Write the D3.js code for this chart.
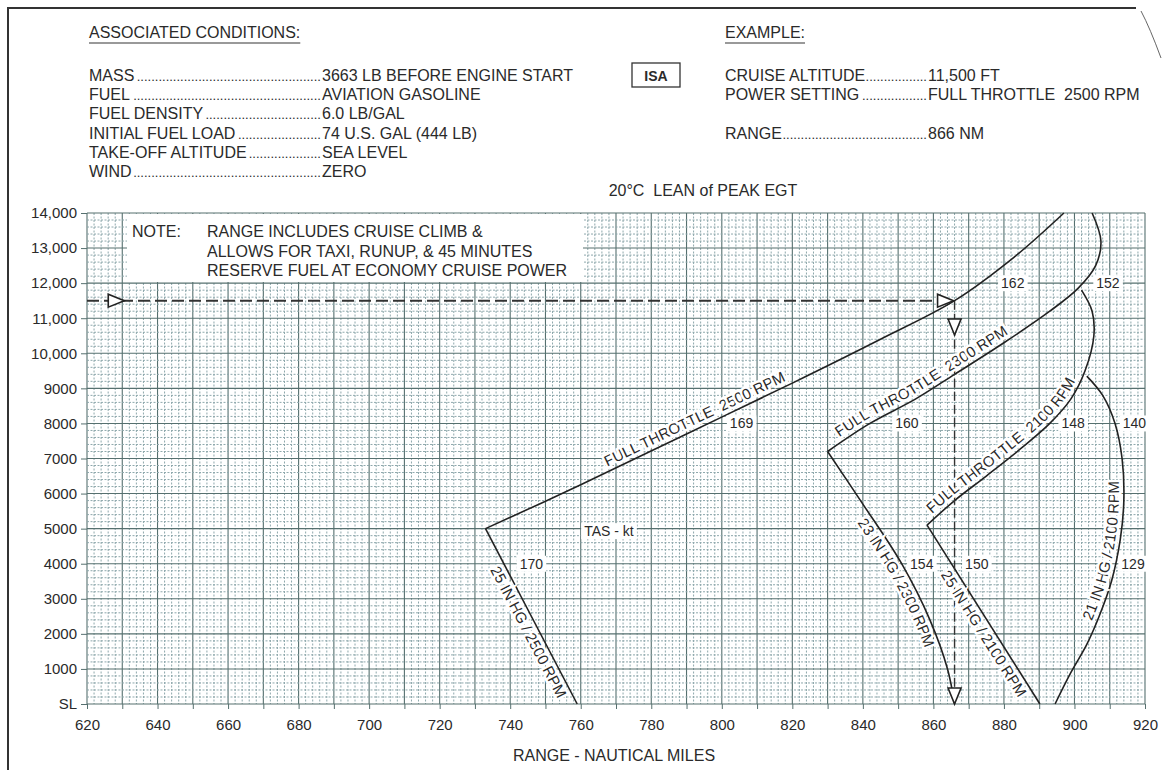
<!DOCTYPE html>
<html>
<head>
<meta charset="utf-8">
<script src="https://cdn.jsdelivr.net/npm/d3@7"></script>
<style>
    body { margin: 0; background: #fff; }
    svg text { font-family: "Liberation Sans", Arial, sans-serif; fill: #2a2a2a; }
</style>
</head>
<body>
<svg id="chart" width="1163" height="770"></svg>
<script>
// Axis ticks
const rangeTicks = [620, 640, 660, 680, 700, 720, 740, 760, 780, 800, 820, 840, 860, 880, 900, 920];
const altTicks = [0, 1000, 2000, 3000, 4000, 5000, 6000, 7000, 8000, 9000, 10000, 11000, 12000, 13000, 14000];
const altTickLabels = ["SL", "1000", "2000", "3000", "4000", "5000", "6000", "7000", "8000", "9000",
    "10,000", "11,000", "12,000", "13,000", "14,000"];

// Header text
const conditionLabels = ["MASS", "FUEL", "FUEL DENSITY", "INITIAL FUEL LOAD", "TAKE-OFF ALTITUDE", "WIND"];
const conditionValues = ["3663 LB BEFORE ENGINE START", "AVIATION GASOLINE", "6.0 LB/GAL",
    "74 U.S. GAL (444 LB)", "SEA LEVEL", "ZERO"];
const exampleLabels = ["CRUISE ALTITUDE", "POWER SETTING", "RANGE"];
const exampleValues = ["11,500 FT", "FULL THROTTLE  2500 RPM", "866 NM"];
const exampleRows = [0, 1, 3];
const noteLines = ["RANGE INCLUDES CRUISE CLIMB &", "ALLOWS FOR TAXI, RUNUP, & 45 MINUTES",
    "RESERVE FUEL AT ECONOMY CRUISE POWER"];

// Curves: [range NM, pressure altitude ft], in reading order of their labels
const mp2500 = [[733, 5000], [759, 0]];
const ft2500 = [[733, 5000], [760, 6250], [790, 7700], [820, 9150], [845, 10400], [866, 11500], [883, 12750], [897, 14000]];
const mp2300 = [[830, 7200], [840, 5700], [851, 4000], [859, 2400], [864, 1000], [866, 0]];
const ft2300 = [[830, 7200], [842, 8000], [855, 8700], [866, 9400], [880, 10300], [893, 11200], [901, 11850], [906, 12500], [907.5, 13200], [905, 14000]];
const mp2100 = [[858.2, 5100], [890.2, 0]];
const ft2100 = [[858.2, 5100], [866, 5800], [875, 6500], [885, 7300], [893, 8000], [899, 8700], [903, 9500], [905.5, 10500], [905, 11200], [902, 11800]];
const mp21in = [[894.5, 0], [899, 900], [903.5, 1700], [907, 2500], [910.5, 3500], [913, 4700], [914, 5800], [913.5, 7000], [911.5, 8000], [908, 8800], [903.5, 9350]];

const curves = [
    { id: "mp2500", pts: mp2500 }, { id: "ft2500", pts: ft2500 },
    { id: "mp2300", pts: mp2300 }, { id: "ft2300", pts: ft2300 },
    { id: "mp2100", pts: mp2100 }, { id: "ft2100", pts: ft2100 },
    { id: "mp21in", pts: mp21in },
];

// Curve labels: text, curve, where its middle sits, which side
const curveLabelText = ["25 IN HG / 2500 RPM", "FULL THROTTLE  2500 RPM", "23 IN HG / 2300 RPM",
    "FULL THROTTLE  2300 RPM", "25 IN HG / 2100 RPM", "FULL THROTTLE  2100 RPM", "21 IN HG / 2100 RPM"];
const curveLabelCurve = ["mp2500", "ft2500", "mp2300", "ft2300", "mp2100", "ft2100", "mp21in"];
const curveLabelAt = [[745, 2040], [793, 7985], [848, 3370], [857, 9150], [873, 1920], [879, 7530], [907, 4390]];
const curveLabelBelow = [true, false, true, false, true, false, false];

// TAS - kt values
const tasText = ["170", "154", "150", "129", "169", "160", "148", "140", "162", "152"];
const tasRange = [746, 856.7, 872.3, 916.6, 805.6, 852.5, 899.6, 917, 882.5, 909.5];
const tasAlt = [4000, 4000, 4000, 4000, 8000, 8000, 8000, 8000, 12000, 12000];

// Worked example
const exampleAlt = 11500;
const exampleRange = 866;
const exampleStartRange = 620;
const exampleMarkers = [[628.3, 11500, "right"], [866, 11500, "rightTip"], [866, 10750, "down"], [866, 0, "downTip"]];

// Layout
const plot = { left: 87, right: 1145, top: 213, bottom: 704 };
const minorColor = "#8ea8ac", majorColor = "#56706f", ink = "#222";

const svg = d3.select("#chart");

const x = d3.scaleLinear().domain([620, 920]).range([plot.left, plot.right]);
const y = d3.scaleLinear().domain([0, 14000]).range([plot.bottom, plot.top]);

// page border (scan edge)
svg.append("path")
    .attr("d", "M8,770 L8,8 L1136,8")
    .attr("fill", "none").attr("stroke", "#333").attr("stroke-width", 2);
svg.append("path")
    .attr("d", "M1141,11 Q1150,28 1161,58")
    .attr("fill", "none").attr("stroke", "#666").attr("stroke-width", 1);

// ---- header
const hdr = svg.append("g").attr("font-size", 16);
const rowY = i => 81 + i * 19.2;

function heading(txt, hx, hy) {
    const t = hdr.append("text").attr("x", hx).attr("y", hy).text(txt);
    const w = t.node().getComputedTextLength();
    hdr.append("line").attr("x1", hx).attr("x2", hx + w).attr("y1", hy + 5).attr("y2", hy + 5)
        .attr("stroke", "#777").attr("stroke-width", 1.3);
}
heading("ASSOCIATED CONDITIONS:", 89, 38);
heading("EXAMPLE:", 725, 38);

// dot leaders between a label and its value
const probe = hdr.append("text").attr("font-size", 13).text("..........");
const dotW = probe.node().getComputedTextLength() / 10;
probe.remove();

function leaderRow(label, value, lx, vx, ry) {
    const t = hdr.append("text").attr("x", lx).attr("y", ry).text(label);
    const end = lx + t.node().getComputedTextLength();
    const n = Math.max(0, Math.floor((vx - end - 1) / dotW));
    hdr.append("text").attr("font-size", 13).attr("x", vx - 1 - n * dotW).attr("y", ry).text(".".repeat(n));
    hdr.append("text").attr("x", vx).attr("y", ry).style("white-space", "pre").text(value);
}
conditionLabels.forEach((l, i) => leaderRow(l, conditionValues[i], 89, 322, rowY(i)));
exampleLabels.forEach((l, i) => leaderRow(l, exampleValues[i], 725, 928, rowY(exampleRows[i])));

// ISA box
hdr.append("rect").attr("x", 632).attr("y", 63).attr("width", 48).attr("height", 24)
    .attr("fill", "#fff").attr("stroke", "#333").attr("stroke-width", 1.3);
hdr.append("text").attr("x", 656).attr("y", 81).attr("text-anchor", "middle")
    .attr("font-weight", "bold").attr("font-size", 14).text("ISA");

hdr.append("text").attr("x", 703).attr("y", 196).attr("text-anchor", "middle")
    .style("white-space", "pre").text("20°C  LEAN of PEAK EGT");

// ---- grid
const grid = svg.append("g");
const xGrid = d3.range(620, 921, 2);
const yGrid = d3.range(0, 14001, 200);
grid.selectAll("line.v").data(xGrid).join("line")
    .attr("class", "v")
    .attr("x1", d => x(d)).attr("x2", d => x(d))
    .attr("y1", plot.top).attr("y2", plot.bottom)
    .attr("stroke", d => d % 10 === 0 ? majorColor : minorColor)
    .attr("stroke-width", d => d % 10 === 0 ? 1.1 : 1)
    .attr("stroke-dasharray", d => d % 10 === 0 ? null : "2,1.5");
grid.selectAll("line.h").data(yGrid).join("line")
    .attr("class", "h")
    .attr("y1", d => y(d)).attr("y2", d => y(d))
    .attr("x1", plot.left).attr("x2", plot.right)
    .attr("stroke", d => d % 1000 === 0 ? majorColor : minorColor)
    .attr("stroke-width", d => d % 1000 === 0 ? 1.1 : 1)
    .attr("stroke-dasharray", d => d % 1000 === 0 ? null : "2,1.5");

// ---- axes
const xAxis = d3.axisBottom(x)
    .tickValues(d3.range(620, 921, 10))
    .tickFormat(d => rangeTicks.includes(d) ? d : "")
    .tickSize(5).tickPadding(10);
const gx = svg.append("g").attr("transform", `translate(0,${plot.bottom})`).call(xAxis);
gx.select(".domain").remove();
gx.selectAll(".tick line").attr("stroke", majorColor);
gx.selectAll("text").attr("font-size", 15).attr("fill", "#2a2a2a");

const yAxis = d3.axisLeft(y)
    .tickValues(altTicks)
    .tickFormat((d, i) => altTickLabels[i])
    .tickSize(6).tickPadding(4);
const gy = svg.append("g").attr("transform", `translate(${plot.left},0)`).call(yAxis);
gy.select(".domain").remove();
gy.selectAll(".tick line").attr("stroke", majorColor);
gy.selectAll("text").attr("font-size", 15).attr("fill", "#2a2a2a");

svg.append("text")
    .attr("x", 614).attr("y", 761).attr("text-anchor", "middle").attr("font-size", 16)
    .text("RANGE - NAUTICAL MILES");

// ---- note box
const note = svg.append("g").attr("font-size", 16);
note.append("rect").attr("x", 127).attr("y", plot.top + 1).attr("width", 456).attr("height", 68)
    .attr("fill", "#fff");
note.append("text").attr("x", 132).attr("y", 237).text("NOTE:");
noteLines.forEach((l, i) => note.append("text").attr("x", 207).attr("y", 237 + i * 19.5).text(l));

// ---- curves
const line = d3.line()
    .x(d => x(d[0])).y(d => y(d[1]))
    .curve(d3.curveCatmullRom.alpha(0.5));

svg.append("g").selectAll("path").data(curves).join("path")
    .attr("id", d => d.id)
    .attr("d", d => line(d.pts))
    .attr("fill", "none").attr("stroke", ink).attr("stroke-width", 1.6);

// ---- example dashed path
svg.append("line")
    .attr("x1", x(exampleStartRange)).attr("x2", x(exampleRange) - 2)
    .attr("y1", y(exampleAlt)).attr("y2", y(exampleAlt))
    .attr("stroke", "#333").attr("stroke-width", 2).attr("stroke-dasharray", "12,5");
svg.append("line")
    .attr("x1", x(exampleRange)).attr("x2", x(exampleRange))
    .attr("y1", y(exampleAlt)).attr("y2", y(0))
    .attr("stroke", "#333").attr("stroke-width", 1.4).attr("stroke-dasharray", "9,4");

// ---- curve labels along the curves
curveLabelText.forEach((txt, i) => {
    const node = document.getElementById(curveLabelCurve[i]);
    const total = node.getTotalLength();
    const ax = x(curveLabelAt[i][0]), ay = y(curveLabelAt[i][1]);
    let best = 0, bestD = Infinity;
    for (let s = 0; s <= total; s += 0.5) {
        const p = node.getPointAtLength(s);
        const dd = (p.x - ax) ** 2 + (p.y - ay) ** 2;
        if (dd < bestD) { bestD = dd; best = s; }
    }
    svg.append("text")
        .attr("font-size", 15)
        .attr("dy", curveLabelBelow[i] ? 15 : -5)
        .attr("stroke", "#fff").attr("stroke-width", 5).attr("paint-order", "stroke")
        .style("white-space", "pre")
        .append("textPath")
        .attr("href", "#" + curveLabelCurve[i])
        .attr("startOffset", best)
        .attr("text-anchor", "middle")
        .text(txt);
});

// ---- TAS values
const tas = svg.append("g").attr("font-size", 14);
function boxedLabel(txt, nm, ft) {
    const t = tas.append("text")
        .attr("x", x(nm)).attr("y", y(ft)).attr("dy", "0.36em")
        .attr("text-anchor", "middle").text(txt);
    const b = t.node().getBBox();
    tas.insert("rect", "text")
        .attr("x", b.x - 3).attr("y", b.y).attr("width", b.width + 6).attr("height", b.height)
        .attr("fill", "#fff");
}
tasText.forEach((t, i) => boxedLabel(t, tasRange[i], tasAlt[i]));
boxedLabel("TAS - kt", 768, 4930);

// ---- example markers (open triangles)
const triRight = "M0,0 L-16,-6.5 L-16,6.5 Z";
svg.append("g").selectAll("path").data(exampleMarkers).join("path")
    .attr("d", triRight)
    .attr("transform", d => {
        const px = x(d[0]), py = y(d[1]);
        if (d[2] === "right") return `translate(${px + 8},${py})`;
        if (d[2] === "rightTip") return `translate(${px - 1},${py})`;
        if (d[2] === "down") return `translate(${px},${py + 8}) rotate(90)`;
        return `translate(${px},${py}) rotate(90)`;
    })
    .attr("fill", "#fff").attr("stroke", ink).attr("stroke-width", 1.6)
    .attr("stroke-linejoin", "miter");
</script>
</body>
</html>
